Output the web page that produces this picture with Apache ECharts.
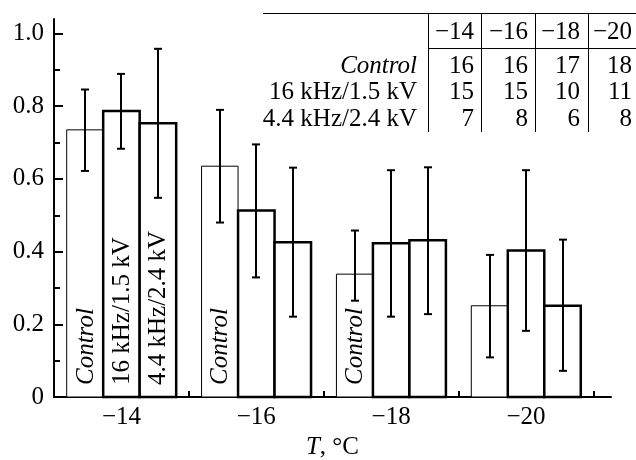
<!DOCTYPE html>
<html>
<head>
<meta charset="utf-8">
<script src="https://cdn.jsdelivr.net/npm/echarts@6/dist/echarts.min.js"></script>
<style>
html, body { margin: 0; padding: 0; background: #fff; }
#container { width: 636px; height: 460px; }
</style>
</head>
<body>
<div id="container"></div>
<script>
// temperatures, group positions on the x axis
const temps = ['−14', '−16', '−18', '−20'];
const groupPos = [1, 2, 3, 4];

// means and error bar ends
const controlMean = [0.735, 0.635, 0.338, 0.251];
const controlLow = [0.622, 0.480, 0.265, 0.109];
const controlHigh = [0.846, 0.790, 0.458, 0.391];
const khz16Mean = [0.787, 0.513, 0.423, 0.403];
const khz16Low = [0.683, 0.329, 0.221, 0.182];
const khz16High = [0.889, 0.695, 0.624, 0.624];
const khz44Mean = [0.753, 0.426, 0.431, 0.251];
const khz44Low = [0.548, 0.221, 0.228, 0.072];
const khz44High = [0.958, 0.631, 0.632, 0.433];

// text written inside the bars
const controlLabels = ['Control', 'Control', 'Control', ''];
const khz16Labels = ['16 kHz/1.5 kV', '', '', ''];
const khz44Labels = ['4.4 kHz/2.4 kV', '', '', ''];

const yTicks = [0, 0.2, 0.4, 0.6, 0.8, 1.0];
const yMinorTicks = [0.1, 0.3, 0.5, 0.7, 0.9];
const xTicks = [0.5, 1, 1.5, 2, 2.5, 3, 3.5, 4, 4.5];

// sample counts table
const tableRows = ['Control', '16 kHz/1.5 kV', '4.4 kHz/2.4 kV'];
const tableCounts = [
    [16, 16, 17, 18],
    [15, 15, 10, 11],
    [7, 8, 6, 8]
];

const FONT = '"Liberation Serif", "Times New Roman", serif';
const FS = 25;
const BAR_W = 0.2706;

function makeSeries(name, mean, low, high, labels, offset, lineW, italic) {
    return {
        type: 'custom',
        name: name,
        data: groupPos.map((p, i) => [p, mean[i], low[i], high[i]]),
        encode: { x: 0, y: [1, 2, 3] },
        renderItem: function (params, api) {
            let x = api.value(0) + offset;
            let half = api.size([BAR_W, 0])[0] / 2;
            let base = api.coord([x, 0]);
            let top = api.coord([x, api.value(1)]);
            let lo = api.coord([x, api.value(2)]);
            let hi = api.coord([x, api.value(3)]);
            let cx = Math.round(base[0]);
            let children = [
                {
                    type: 'rect',
                    shape: { x: base[0] - half, y: top[1], width: half * 2, height: base[1] - top[1] },
                    style: { fill: '#fff', stroke: '#000', lineWidth: lineW }
                },
                {
                    type: 'line',
                    shape: { x1: cx, y1: lo[1], x2: cx, y2: hi[1] },
                    style: { stroke: '#000', lineWidth: 2 }
                },
                {
                    type: 'line',
                    shape: { x1: cx - 4, y1: lo[1], x2: cx + 4, y2: lo[1] },
                    style: { stroke: '#000', lineWidth: 2 }
                },
                {
                    type: 'line',
                    shape: { x1: cx - 4, y1: hi[1], x2: cx + 4, y2: hi[1] },
                    style: { stroke: '#000', lineWidth: 2 }
                }
            ];
            let label = labels[params.dataIndex];
            if (label) {
                children.push({
                    type: 'text',
                    x: base[0] + 1,
                    y: base[1] - 12,
                    rotation: Math.PI / 2,
                    style: {
                        text: label,
                        fill: '#000',
                        fontSize: FS,
                        fontFamily: FONT,
                        fontStyle: italic ? 'italic' : 'normal',
                        align: 'left',
                        verticalAlign: 'middle'
                    }
                });
            }
            return { type: 'group', children: children };
        }
    };
}

// table layout (pixels)
const colLine = [428.5, 481.5, 535.5, 588.5];
const colRight = [474, 528, 580, 632];
const rowY = [32, 66, 92, 119];
let tableEls = [
    { type: 'line', shape: { x1: 263, y1: 13.5, x2: 636, y2: 13.5 }, style: { stroke: '#000', lineWidth: 1 } },
    { type: 'line', shape: { x1: 428, y1: 48.5, x2: 636, y2: 48.5 }, style: { stroke: '#000', lineWidth: 1 } }
];
colLine.forEach(x => {
    tableEls.push({ type: 'line', shape: { x1: x, y1: 13, x2: x, y2: 132 }, style: { stroke: '#000', lineWidth: 1 } });
});
temps.forEach((t, j) => {
    tableEls.push({
        type: 'text', x: colRight[j], y: rowY[0],
        style: { text: t, fill: '#000', fontSize: FS, fontFamily: FONT, align: 'right', verticalAlign: 'middle' }
    });
});
tableRows.forEach((r, i) => {
    tableEls.push({
        type: 'text', x: 417, y: rowY[i + 1],
        style: { text: r, fill: '#000', fontSize: FS, fontFamily: FONT, fontStyle: i === 0 ? 'italic' : 'normal', align: 'right', verticalAlign: 'middle' }
    });
    tableCounts[i].forEach((n, j) => {
        tableEls.push({
            type: 'text', x: colRight[j], y: rowY[i + 1],
            style: { text: String(n), fill: '#000', fontSize: FS, fontFamily: FONT, align: 'right', verticalAlign: 'middle' }
        });
    });
});

let dom = document.getElementById('container');
let myChart = echarts.init(dom);

let axisLineStyle = { color: '#000', width: 2 };

let option = {
    animation: false,
    backgroundColor: '#fff',
    grid: { left: 54, right: 25, top: 19, bottom: 63, outerBoundsMode: 'none' },
    xAxis: {
        type: 'value',
        min: 0.5,
        max: 4.63,
        axisLine: { show: true, lineStyle: axisLineStyle },
        axisTick: { show: true, inside: true, length: 6, customValues: xTicks, lineStyle: { color: '#000', width: 2 } },
        axisLabel: {
            customValues: groupPos,
            formatter: v => temps[Math.round(v) - 1],
            color: '#000', fontSize: FS, fontFamily: FONT, margin: 8
        },
        splitLine: { show: false },
        name: '{i|T}, °C',
        nameLocation: 'middle',
        nameGap: 36,
        nameTextStyle: {
            color: '#000', fontSize: FS, fontFamily: FONT,
            rich: { i: { fontStyle: 'italic', fontSize: FS, fontFamily: FONT, color: '#000' } }
        }
    },
    yAxis: [
        {
            type: 'value',
            min: 0,
            max: 1.04,
            axisLine: { show: true, lineStyle: axisLineStyle },
            axisTick: { show: true, inside: true, length: 9, customValues: yTicks, lineStyle: { color: '#000', width: 2 } },
            axisLabel: {
                customValues: yTicks,
                formatter: v => v === 0 ? '0' : v.toFixed(1),
                color: '#000', fontSize: FS, fontFamily: FONT, margin: 10
            },
            splitLine: { show: false }
        },
        {
            type: 'value',
            min: 0,
            max: 1.04,
            position: 'left',
            axisLine: { show: false },
            axisTick: { show: true, inside: true, length: 6, customValues: yMinorTicks, lineStyle: { color: '#000', width: 2 } },
            axisLabel: { show: false },
            splitLine: { show: false }
        }
    ],
    graphic: { elements: tableEls },
    series: [
        makeSeries('Control', controlMean, controlLow, controlHigh, controlLabels, -BAR_W, 1, true),
        makeSeries('16 kHz/1.5 kV', khz16Mean, khz16Low, khz16High, khz16Labels, 0, 2.5, false),
        makeSeries('4.4 kHz/2.4 kV', khz44Mean, khz44Low, khz44High, khz44Labels, BAR_W, 2.5, false)
    ]
};
myChart.setOption(option);
</script>
</body>
</html>
